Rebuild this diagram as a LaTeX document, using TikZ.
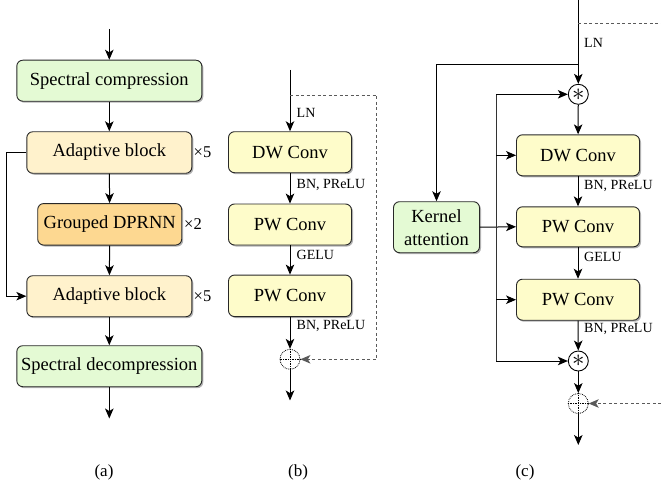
\documentclass[tikz,border=0pt]{standalone}
\usepackage{fontspec}
\setmainfont{Liberation Serif}
\usetikzlibrary{arrows.meta,shadows,calc}

\definecolor{boxgreen}{RGB}{228,250,212}
\definecolor{boxcream}{RGB}{255,242,204}
\definecolor{boxorange}{RGB}{253,216,145}
\definecolor{boxyellow}{RGB}{254,252,202}
\definecolor{edge}{RGB}{40,40,40}
\definecolor{dashgray}{RGB}{90,90,90}

\tikzset{
  blk/.style={draw=edge, line width=0.9pt, rounded corners=6pt, align=center,
    inner sep=0pt, font=\rmfamily\fontsize{18.5}{21}\selectfont,
    drop shadow={shadow xshift=1.5pt, shadow yshift=-1.5pt, fill=black, opacity=0.3}},
  greenbox/.style={blk, fill=boxgreen},
  creambox/.style={blk, fill=boxcream},
  orangebox/.style={blk, fill=boxorange},
  convbox/.style={blk, fill=boxyellow, minimum width=123pt, minimum height=41pt},
  lbl/.style={anchor=west, inner sep=0pt, font=\rmfamily\fontsize{14}{16}\selectfont},
  rep/.style={anchor=west, inner sep=0pt, font=\rmfamily\fontsize{16.5}{18}\selectfont},
  subcap/.style={inner sep=0pt, font=\rmfamily\fontsize{17}{19}\selectfont},
  tip/.style={-{Stealth[length=10pt,width=8.5pt,inset=2.6pt]}},
  flow/.style={draw=black, line width=1pt, tip},
  wire/.style={draw=black, line width=1pt},
  skipline/.style={draw=dashgray, line width=1pt, dash pattern=on 3pt off 2.5pt},
  opcirc/.style={circle, draw=black, line width=0.9pt, fill=white, minimum size=20pt, inner sep=0pt},
  sumcirc/.style={circle, draw=black, densely dotted, line width=0.8pt, fill=white, minimum size=20pt, inner sep=0pt}
}
\newcommand{\opstar}{\raisebox{-0.5ex}{\fontsize{26}{26}\selectfont$\ast$}}

\begin{document}
\begin{tikzpicture}[x=1pt, y=-1pt]
\useasboundingbox (0,0) rectangle (661,487);

% ---------------- (a) overall pipeline ----------------
\coordinate (ain) at (109.3,29);
\node[greenbox, minimum width=185pt, minimum height=41pt] (sc) at (109.3,80.7) {Spectral compression};
\node[creambox, minimum width=165pt, minimum height=41.5pt] (ab1) at (109.3,152.5) {Adaptive block};
\node[orangebox, minimum width=144pt, minimum height=41.5pt] (gd) at (109.7,224.3) {Grouped DPRNN};
\node[creambox, minimum width=165pt, minimum height=41pt] (ab2) at (109.3,296.2) {Adaptive block};
\node[greenbox, minimum width=185pt, minimum height=41pt] (sd) at (109.3,366.2) {Spectral decompression};
\coordinate (aout) at (109.3,418.5);

\node[rep] (r1) at (193.5,152.5) {×5};
\node[rep] (r2) at (184,224.3) {×2};
\node[rep] (r3) at (193.5,296.2) {×5};

\draw[flow] (ain) -- (sc.north);
\draw[flow] (sc) -- (ab1);
\draw[flow] (ab1) -- (gd);
\draw[flow] (gd) -- (ab2);
\draw[flow] (ab2) -- (sd);
\draw[flow] (sd.south) -- (aout);
\coordinate (lp1) at (6.7,152.5);
\coordinate (lp2) at (6.7,296.2);
\draw[flow] (ab1.west) -- (lp1) -- (lp2) -- (ab2.west);

\node[subcap] (capa) at (104,472) {(a)};

% ---------------- (b) adaptive block ----------------
\coordinate (bin) at (290,70);
\coordinate (bsplit) at (290,95);
\node[convbox] (bdw) at (290,152.2) {DW Conv};
\node[convbox] (bpw1) at (290,224.5) {PW Conv};
\node[convbox, minimum height=41.5pt] (bpw2) at (290,295.8) {PW Conv};
\node[sumcirc] (bsum) at (290,359.3) {};
\draw[densely dotted, line width=0.7pt] (bsum.north) -- (bsum.south) (bsum.west) -- (bsum.east);
\coordinate (bout) at (290,400.5);

\draw[flow] (bin) -- (bdw.north);
\draw[flow] (bdw) -- (bpw1);
\draw[flow] (bpw1) -- (bpw2);
\draw[flow] (bpw2) -- (bsum);
\draw[flow] (bsum) -- (bout);
\coordinate (bd1) at (376.7,95);
\coordinate (bd2) at (376.7,359.3);
\draw[skipline, tip] (bsplit) -- (bd1) -- (bd2) -- (bsum.east);

\node[lbl] (bln) at (296.5,113) {LN};
\node[lbl] (bl1) at (296.5,184.5) {BN, PReLU};
\node[lbl] (bl2) at (296.5,255) {GELU};
\node[lbl] (bl3) at (296.5,326) {BN, PReLU};

\node[subcap] (capb) at (298,472) {(b)};

% ---------------- (c) adaptive block with kernel attention ----------------
\coordinate (cin) at (578.3,0);
\coordinate (cdash) at (578.3,24);
\coordinate (cdashend) at (661,24);
\coordinate (csplit) at (578.3,65);
\coordinate (ckbend) at (436.5,65);
\node[opcirc] (cm1) at (578.3,94.3) {\opstar};
\node[convbox] (cdw) at (578,155.3) {DW Conv};
\node[convbox, minimum height=40pt] (cpw1) at (578,226.8) {PW Conv};
\node[convbox] (cpw2) at (578,299.7) {PW Conv};
\node[opcirc] (cm2) at (578.3,361) {\opstar};
\node[sumcirc] (csum) at (578.3,403.5) {};
\draw[densely dotted, line width=0.7pt] (csum.north) -- (csum.south) (csum.west) -- (csum.east);
\coordinate (cout) at (578.3,445);
\node[greenbox, minimum width=86pt, minimum height=51pt, font=\rmfamily\fontsize{18.5}{23}\selectfont] (ka) at (436.5,227.2) {Kernel\\attention};

\draw[wire] (cin) -- (csplit);
\draw[skipline] (cdash) -- (cdashend);
\draw[flow] (csplit) -- (cm1.north);
\draw[flow] (csplit) -- (ckbend) -- (ka.north);
\draw[flow] (cm1) -- (cdw);
\draw[flow] (cdw) -- (cpw1);
\draw[flow] (cpw1) -- (cpw2);
\draw[flow] (cpw2) -- (cm2);
\draw[flow] (cm2) -- (csum);
\draw[flow] (csum) -- (cout);
\draw[flow] (ka.east) -- (cpw1.west);

\coordinate (kt) at (496,94.3);
\coordinate (k1) at (496,155.3);
\coordinate (k2) at (496,299.7);
\coordinate (kb) at (496,361);
\draw[wire, draw=black!80] (kt) -- (kb);
\draw[flow] (kt) -- (cm1.west);
\draw[flow] (k1) -- (cdw.west);
\draw[flow] (k2) -- (cpw2.west);
\draw[flow] (kb) -- (cm2.west);

\coordinate (cdin) at (661,403.5);
\draw[skipline, tip] (cdin) -- (csum.east);

\node[lbl] (cln) at (584,43) {LN};
\node[lbl] (cl1) at (584,185.5) {BN, PReLU};
\node[lbl] (cl2) at (584,257) {GELU};
\node[lbl] (cl3) at (584,329) {BN, PReLU};

\node[subcap] (capc) at (525,472) {(c)};
\end{tikzpicture}
\end{document}
